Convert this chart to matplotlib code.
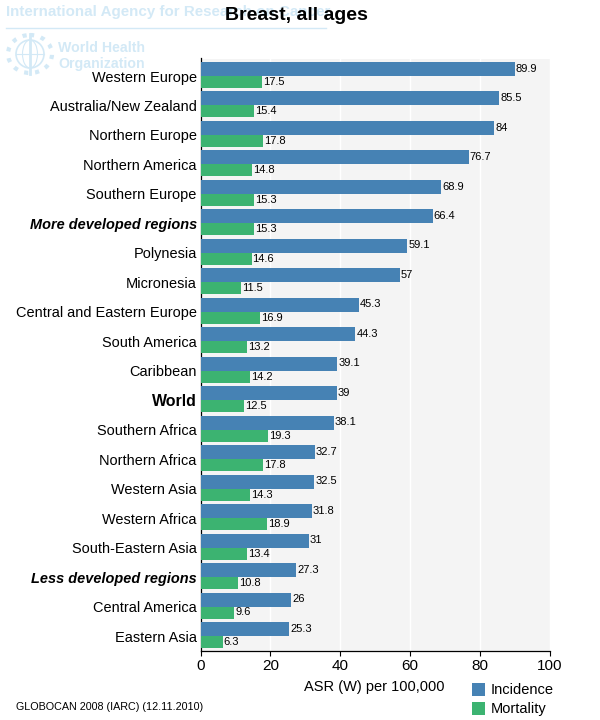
import matplotlib
matplotlib.use("Agg")
import matplotlib.pyplot as plt
from matplotlib.patches import Circle, Ellipse, Rectangle

plt.rcParams['font.family'] = ['Liberation Sans', 'DejaVu Sans']

regions = ["Western Europe", "Australia/New Zealand", "Northern Europe", "Northern America",
           "Southern Europe", "More developed regions", "Polynesia", "Micronesia",
           "Central and Eastern Europe", "South America", "Caribbean", "World",
           "Southern Africa", "Northern Africa", "Western Asia", "Western Africa",
           "South-Eastern Asia", "Less developed regions", "Central America", "Eastern Asia"]
incidence = [89.9, 85.5, 84, 76.7, 68.9, 66.4, 59.1, 57, 45.3, 44.3, 39.1, 39,
             38.1, 32.7, 32.5, 31.8, 31, 27.3, 26, 25.3]
mortality = [17.5, 15.4, 17.8, 14.8, 15.3, 15.3, 14.6, 11.5, 16.9, 13.2, 14.2, 12.5,
             19.3, 17.8, 14.3, 18.9, 13.4, 10.8, 9.6, 6.3]
inc_labels = ["89.9", "85.5", "84", "76.7", "68.9", "66.4", "59.1", "57", "45.3", "44.3", "39.1", "39",
              "38.1", "32.7", "32.5", "31.8", "31", "27.3", "26", "25.3"]
mor_labels = ["17.5", "15.4", "17.8", "14.8", "15.3", "15.3", "14.6", "11.5", "16.9", "13.2", "14.2", "12.5",
              "19.3", "17.8", "14.3", "18.9", "13.4", "10.8", "9.6", "6.3"]
xticks = [0, 20, 40, 60, 80, 100]
bold_rows = {"More developed regions", "Less developed regions"}
BLUE, GREEN = "#4682B4", "#3CB371"
W, H = 600, 720
fig = plt.figure(figsize=(W / 100, H / 100), dpi=100, facecolor="white")

# watermark
wm = "#D3E9F6"
fig.text(6 / W, 1 - 12 / H, "International Agency for Research on Cancer", color=wm, fontsize=10.9,
         fontweight="bold", va="center", ha="left")
fig.add_artist(plt.Line2D([6 / W, 326 / W], [1 - 27.5 / H] * 2, color=wm, lw=1))
fig.text(58 / W, 1 - 48 / H, "World Health", color=wm, fontsize=10.2, fontweight="bold", va="center")
fig.text(58 / W, 1 - 64 / H, "Organization", color=wm, fontsize=10.2, fontweight="bold", va="center")
lg = fig.add_axes([4 / W, 1 - 78 / H, 52 / W, 46 / H])
lg.set_xlim(4, 56); lg.set_ylim(78, 32); lg.axis("off")
lg.add_patch(Circle((30, 54), 14, fc="none", ec=wm, lw=1.2))
lg.add_patch(Ellipse((30, 54), 15, 28, fc="none", ec=wm, lw=0.8))
lg.plot([16, 44], [54, 54], color=wm, lw=0.8)
lg.plot([30, 30], [34, 74], color=wm, lw=2)
lg.add_patch(Ellipse((30, 54), 44, 38, fc="none", ec=wm, lw=3, ls=":"))

ax = fig.add_axes([200.5 / W, 1 - 650.5 / H, 349.5 / W, 592 / H])
ax.set_facecolor("#F4F4F4")
ypos = list(range(len(regions)))
ax.barh([y - 0.2375 for y in ypos], incidence, height=0.475, color=BLUE, zorder=3)
ax.barh([y + 0.2035 for y in ypos], mortality, height=0.407, color=GREEN, zorder=3)
for y, v, s in zip(ypos, incidence, inc_labels):
    ax.text(v + 0.3, y - 0.25, s, fontsize=8, va="center", ha="left", color="black", zorder=4)
for y, v, s in zip(ypos, mortality, mor_labels):
    ax.text(v + 0.3, y + 0.2, s, fontsize=8, va="center", ha="left", color="black", zorder=4)
ax.set_xlim(0, 100)
ax.set_ylim(19.49, -0.594)
ax.set_xticks(xticks)
ax.set_yticks(ypos)
ax.set_yticklabels(regions, fontsize=10.45)
for lab in ax.get_yticklabels():
    if lab.get_text() in bold_rows:
        lab.set_fontweight("bold"); lab.set_fontstyle("italic")
    elif lab.get_text() == "World":
        lab.set_fontweight("bold"); lab.set_fontsize(11.4)
ax.tick_params(axis="y", length=0, pad=2.7)
ax.tick_params(axis="x", length=3.6, width=0.8, labelsize=11, pad=2.5)
ax.grid(axis="x", color="white", lw=1, zorder=1)
ax.set_axisbelow(True)
for s in ("top", "right"):
    ax.spines[s].set_visible(False)
for s in ("left", "bottom"):
    ax.spines[s].set_linewidth(0.9)

fig.text(225 / W, 1 - 15 / H, "Breast, all ages", fontsize=14, fontweight="bold", ha="left",
         va="center", color="black")
fig.text(374 / W, 1 - 687 / H, "ASR (W) per 100,000", fontsize=10.5, ha="center", va="center")
fig.text(15.5 / W, 1 - 707 / H, "GLOBOCAN 2008 (IARC) (12.11.2010)", fontsize=7.75, ha="left", va="center")

for yy, c, t in [(689.5, BLUE, "Incidence"), (708.5, GREEN, "Mortality")]:
    fig.add_artist(Rectangle((472 / W, 1 - (yy + 6.5) / H), 13 / W, 13 / H, fc=c, ec="none",
                             transform=fig.transFigure))
    fig.text(491 / W, 1 - yy / H, t, fontsize=10.5, ha="left", va="center")

fig.savefig("out.png", dpi=100)
